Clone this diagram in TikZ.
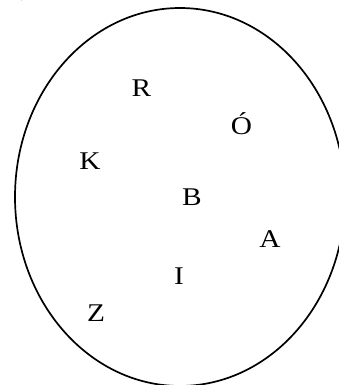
\documentclass[tikz,border=0pt]{standalone}
\usepackage{fontspec}
\setmainfont{Liberation Serif}
\newfontfamily\letterfont[FakeStretch=1.15]{Liberation Serif}
\usetikzlibrary{positioning}

\begin{document}
\begin{tikzpicture}[
    x=1pt, y=-1pt,
    letter/.style={inner sep=0pt, anchor=base, font=\letterfont\fontsize{25.5}{30}\selectfont},
    set/.style={draw, line width=1.7pt}
]
\useasboundingbox (0,0) rectangle (339,385);
% the set
\draw[set] (180,197) ellipse [x radius=165, y radius=189];
% elements
\node[letter] (letR) at (141.5,96.5) {R};
\node[letter] (letO) at (241.5,134)  {Ó};
\node[letter] (letK) at (90,169)     {K};
\node[letter] (letB) at (192,205)    {B};
\node[letter] (letA) at (270,247)    {A};
\node[letter] (letI) at (179,284)    {I};
\node[letter] (letZ) at (96,321)     {Z};
% label cut off at the top
\node[letter, anchor=south] (lbl) at (25,1) {)};
\end{tikzpicture}
\end{document}
